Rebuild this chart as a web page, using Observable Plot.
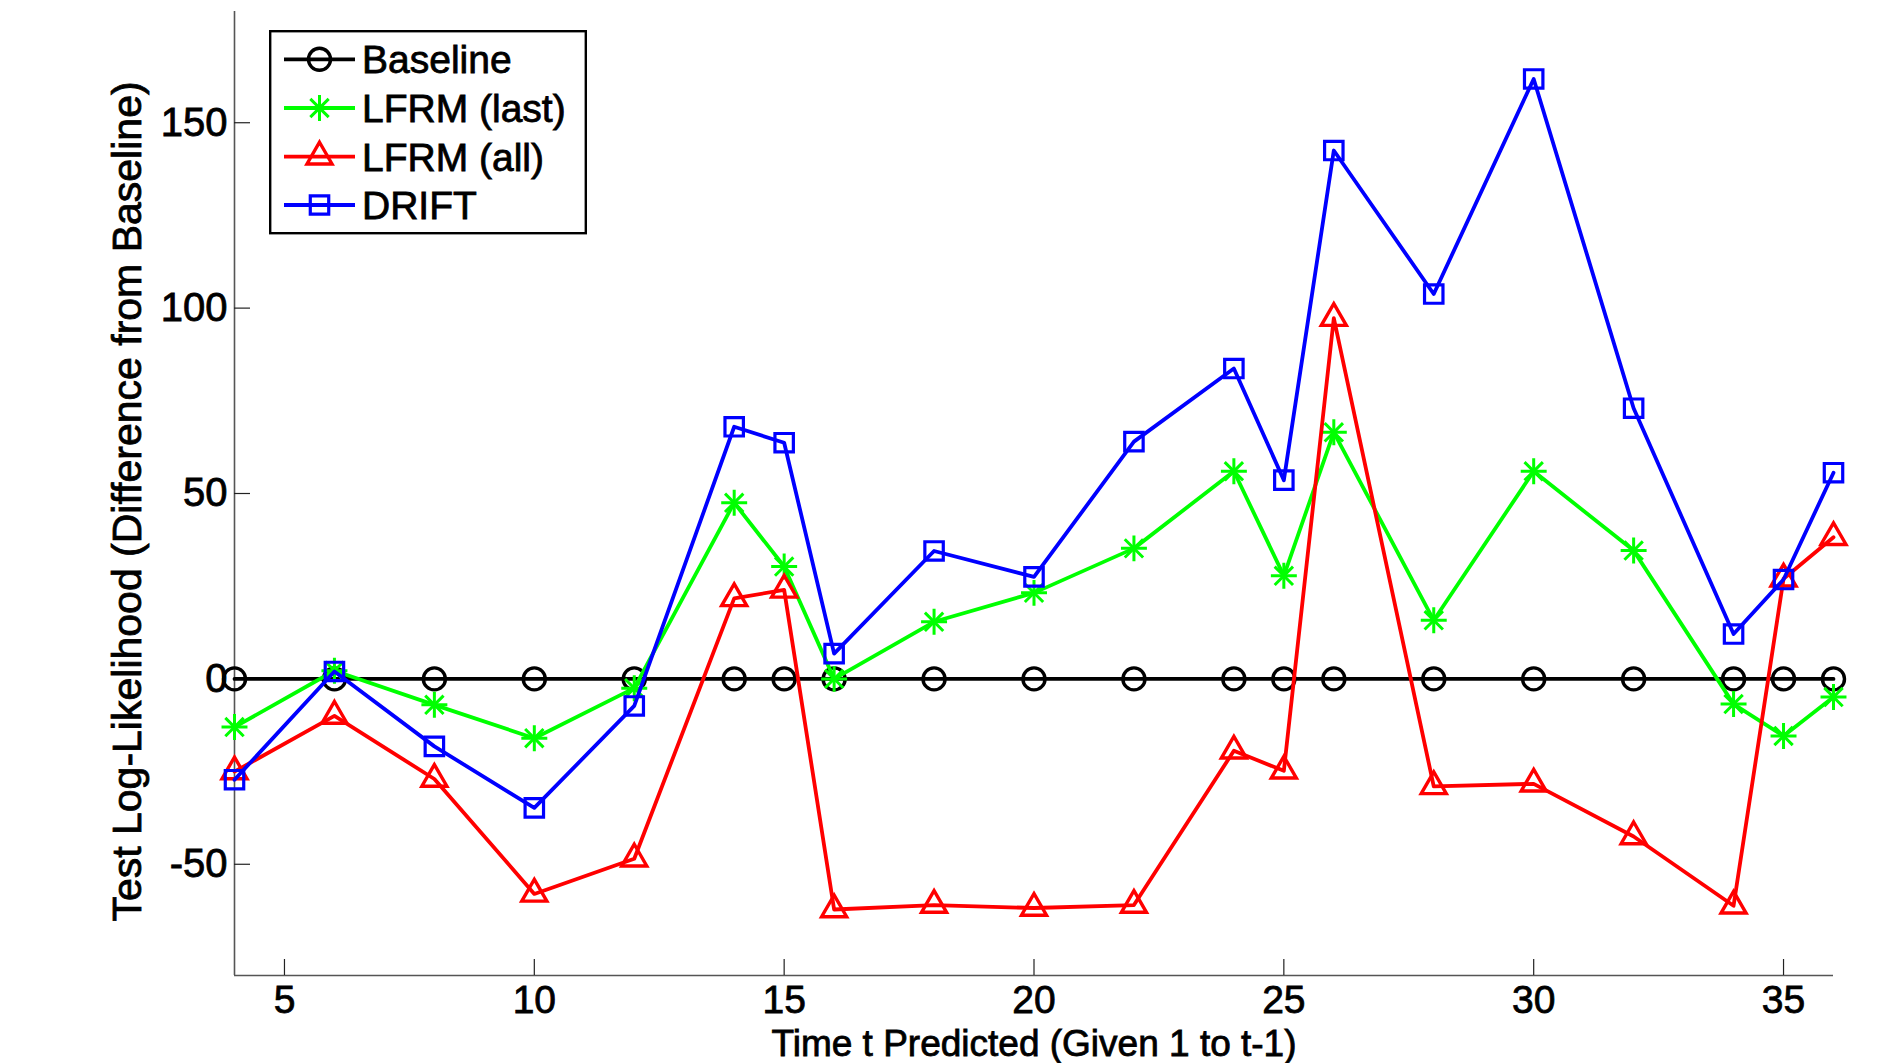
<!DOCTYPE html>
<html>
<head>
<meta charset="utf-8">
<script src="https://cdn.jsdelivr.net/npm/d3@7"></script>
<script src="https://cdn.jsdelivr.net/npm/@observablehq/plot@0.6"></script>
<style>
html, body { margin: 0; padding: 0; background: #fff; }
#wrap { position: relative; width: 1893px; height: 1063px; overflow: hidden; background: #fff; }
#legend { position: absolute; left: 269px; top: 30px; }
#wrap text { stroke: #000; stroke-width: 0.8px; paint-order: stroke; }
</style>
</head>
<body>
<div id="wrap"></div>
<script>
// ---- data ----
const times    = [4, 6, 8, 10, 12, 14, 15, 16, 18, 20, 22, 24, 25, 26, 28, 30, 32, 34, 35, 36];
const baseline = [0, 0, 0, 0, 0, 0, 0, 0, 0, 0, 0, 0, 0, 0, 0, 0, 0, 0, 0, 0];
const lfrmLast = [-13, 2.2, -7, -16, -2.5, 47.5, 30.3, 0, 15.4, 23.2, 35.2, 56, 27.8, 66.5, 15.8, 56, 34.6, -6.8, -15.4, -4.9];
const lfrmAll  = [-25, -10, -27, -58, -48.5, 21.7, 24, -62.2, -61, -61.8, -61, -19.4, -24.8, 97.3, -29, -28.3, -42.5, -61.2, 27, 38.2];
const drift    = [-27.2, 2, -18.2, -34.8, -7.3, 68, 63.7, 6.8, 34.5, 27.5, 64, 83.7, 53.6, 142.5, 103.8, 161.8, 73, 12.1, 26.8, 55.6];

const seriesNames   = ["Baseline", "LFRM (last)", "LFRM (all)", "DRIFT"];
const seriesColors  = ["#000000", "#00ff00", "#ff0000", "#0000ff"];
const xDomain = [4, 36];
const yDomain = [-80, 180];
const xTicks  = [5, 10, 15, 20, 25, 30, 35];
const yTicks  = [-50, 0, 50, 100, 150];
const xLabel  = "Time t Predicted (Given 1 to t-1)";
const yLabel  = "Test Log-Likelihood (Difference from Baseline)";

// ---- styling ----
const FONT = "'Liberation Sans', Arial, Helvetica, sans-serif";
const LW = 3.8;
const markerStyles = [
  [{symbol: "circle", r: 11, strokeWidth: 3.4}],
  [{symbol: "plus", r: 8.4, strokeWidth: 3}, {symbol: "times", r: 8.4, strokeWidth: 3}],
  [{symbol: "triangle", r: 9.3, strokeWidth: 3.4}],
  [{symbol: "square", r: 10.4, strokeWidth: 3.2}]
];

const seriesValues = [baseline, lfrmLast, lfrmAll, drift];
const seriesRows = seriesValues.map(vals => times.map((t, i) => ({t, v: vals[i]})));

const seriesMarks = seriesRows.flatMap((rows, k) => [
  Plot.line(rows, {x: "t", y: "v", stroke: seriesColors[k], strokeWidth: LW, strokeLinejoin: "round"}),
  ...markerStyles[k].map(m => Plot.dot(rows, {x: "t", y: "v", symbol: m.symbol, r: m.r, stroke: seriesColors[k], strokeWidth: m.strokeWidth, fill: "none"}))
]);

const chart = Plot.plot({
  width: 1893,
  height: 1063,
  marginLeft: 234,
  marginRight: 60,
  marginTop: 11,
  marginBottom: 88,
  style: {fontFamily: FONT, fontSize: "40px", color: "#000", background: "#fff"},
  x: {domain: xDomain},
  y: {domain: yDomain},
  marks: [
    Plot.ruleY([yDomain[0]], {stroke: "#555", strokeWidth: 1.6}),
    Plot.ruleX([xDomain[0]], {stroke: "#555", strokeWidth: 1.6}),
    Plot.axisX(xTicks, {tickSize: -16, tickPadding: 26, stroke: "#222", strokeWidth: 1.2, fontSize: 39, fill: "#000", label: null, tickFormat: d => String(d)}),
    Plot.axisY(yTicks, {tickSize: -16, tickPadding: 23, stroke: "#222", strokeWidth: 1.2, fontSize: 40, fill: "#000", label: null, tickFormat: d => String(d)}),
    Plot.text([xLabel], {text: d => d, frameAnchor: "bottom", textAnchor: "middle", lineAnchor: "bottom", dy: 80.5, fontSize: 37, fill: "#000"}),
    Plot.text([yLabel], {text: d => d, frameAnchor: "left", textAnchor: "middle", rotate: -90, lineAnchor: "bottom", dx: -94, dy: 8, fontSize: 41, fill: "#000"}),
    ...seriesMarks
  ]
});

const wrap = document.getElementById("wrap");
wrap.appendChild(chart);

// ---- legend (overlaid inside the plot area, as in the reference) ----
const legW = 318, legH = 205, fs = 39;
const leg = d3.create("svg").attr("id", "legend").attr("width", legW).attr("height", legH)
  .style("font-family", FONT);
leg.append("rect").attr("x", 1.2).attr("y", 1.2).attr("width", legW - 2.4).attr("height", legH - 3)
  .attr("fill", "#fff").attr("stroke", "#000").attr("stroke-width", 2.4);
const symbolMap = {circle: d3.symbolCircle, plus: d3.symbolPlus, times: d3.symbolTimes, triangle: d3.symbolTriangle, square: d3.symbolSquare};
const rowY = [29.3, 78, 126.7, 175];
seriesNames.forEach((name, k) => {
  const g = leg.append("g").attr("transform", `translate(0,${rowY[k]})`);
  g.append("line").attr("x1", 15).attr("x2", 86).attr("y1", 0).attr("y2", 0)
    .attr("stroke", seriesColors[k]).attr("stroke-width", LW);
  markerStyles[k].forEach(m => {
    g.append("path").attr("transform", "translate(50.5,0)")
      .attr("d", d3.symbol(symbolMap[m.symbol], Math.PI * m.r * m.r)())
      .attr("fill", "none").attr("stroke", seriesColors[k]).attr("stroke-width", m.strokeWidth);
  });
  g.append("text").attr("x", 93).attr("y", fs * 0.358).attr("font-size", fs).attr("fill", "#000").text(name);
});
wrap.appendChild(leg.node());
</script>
</body>
</html>
